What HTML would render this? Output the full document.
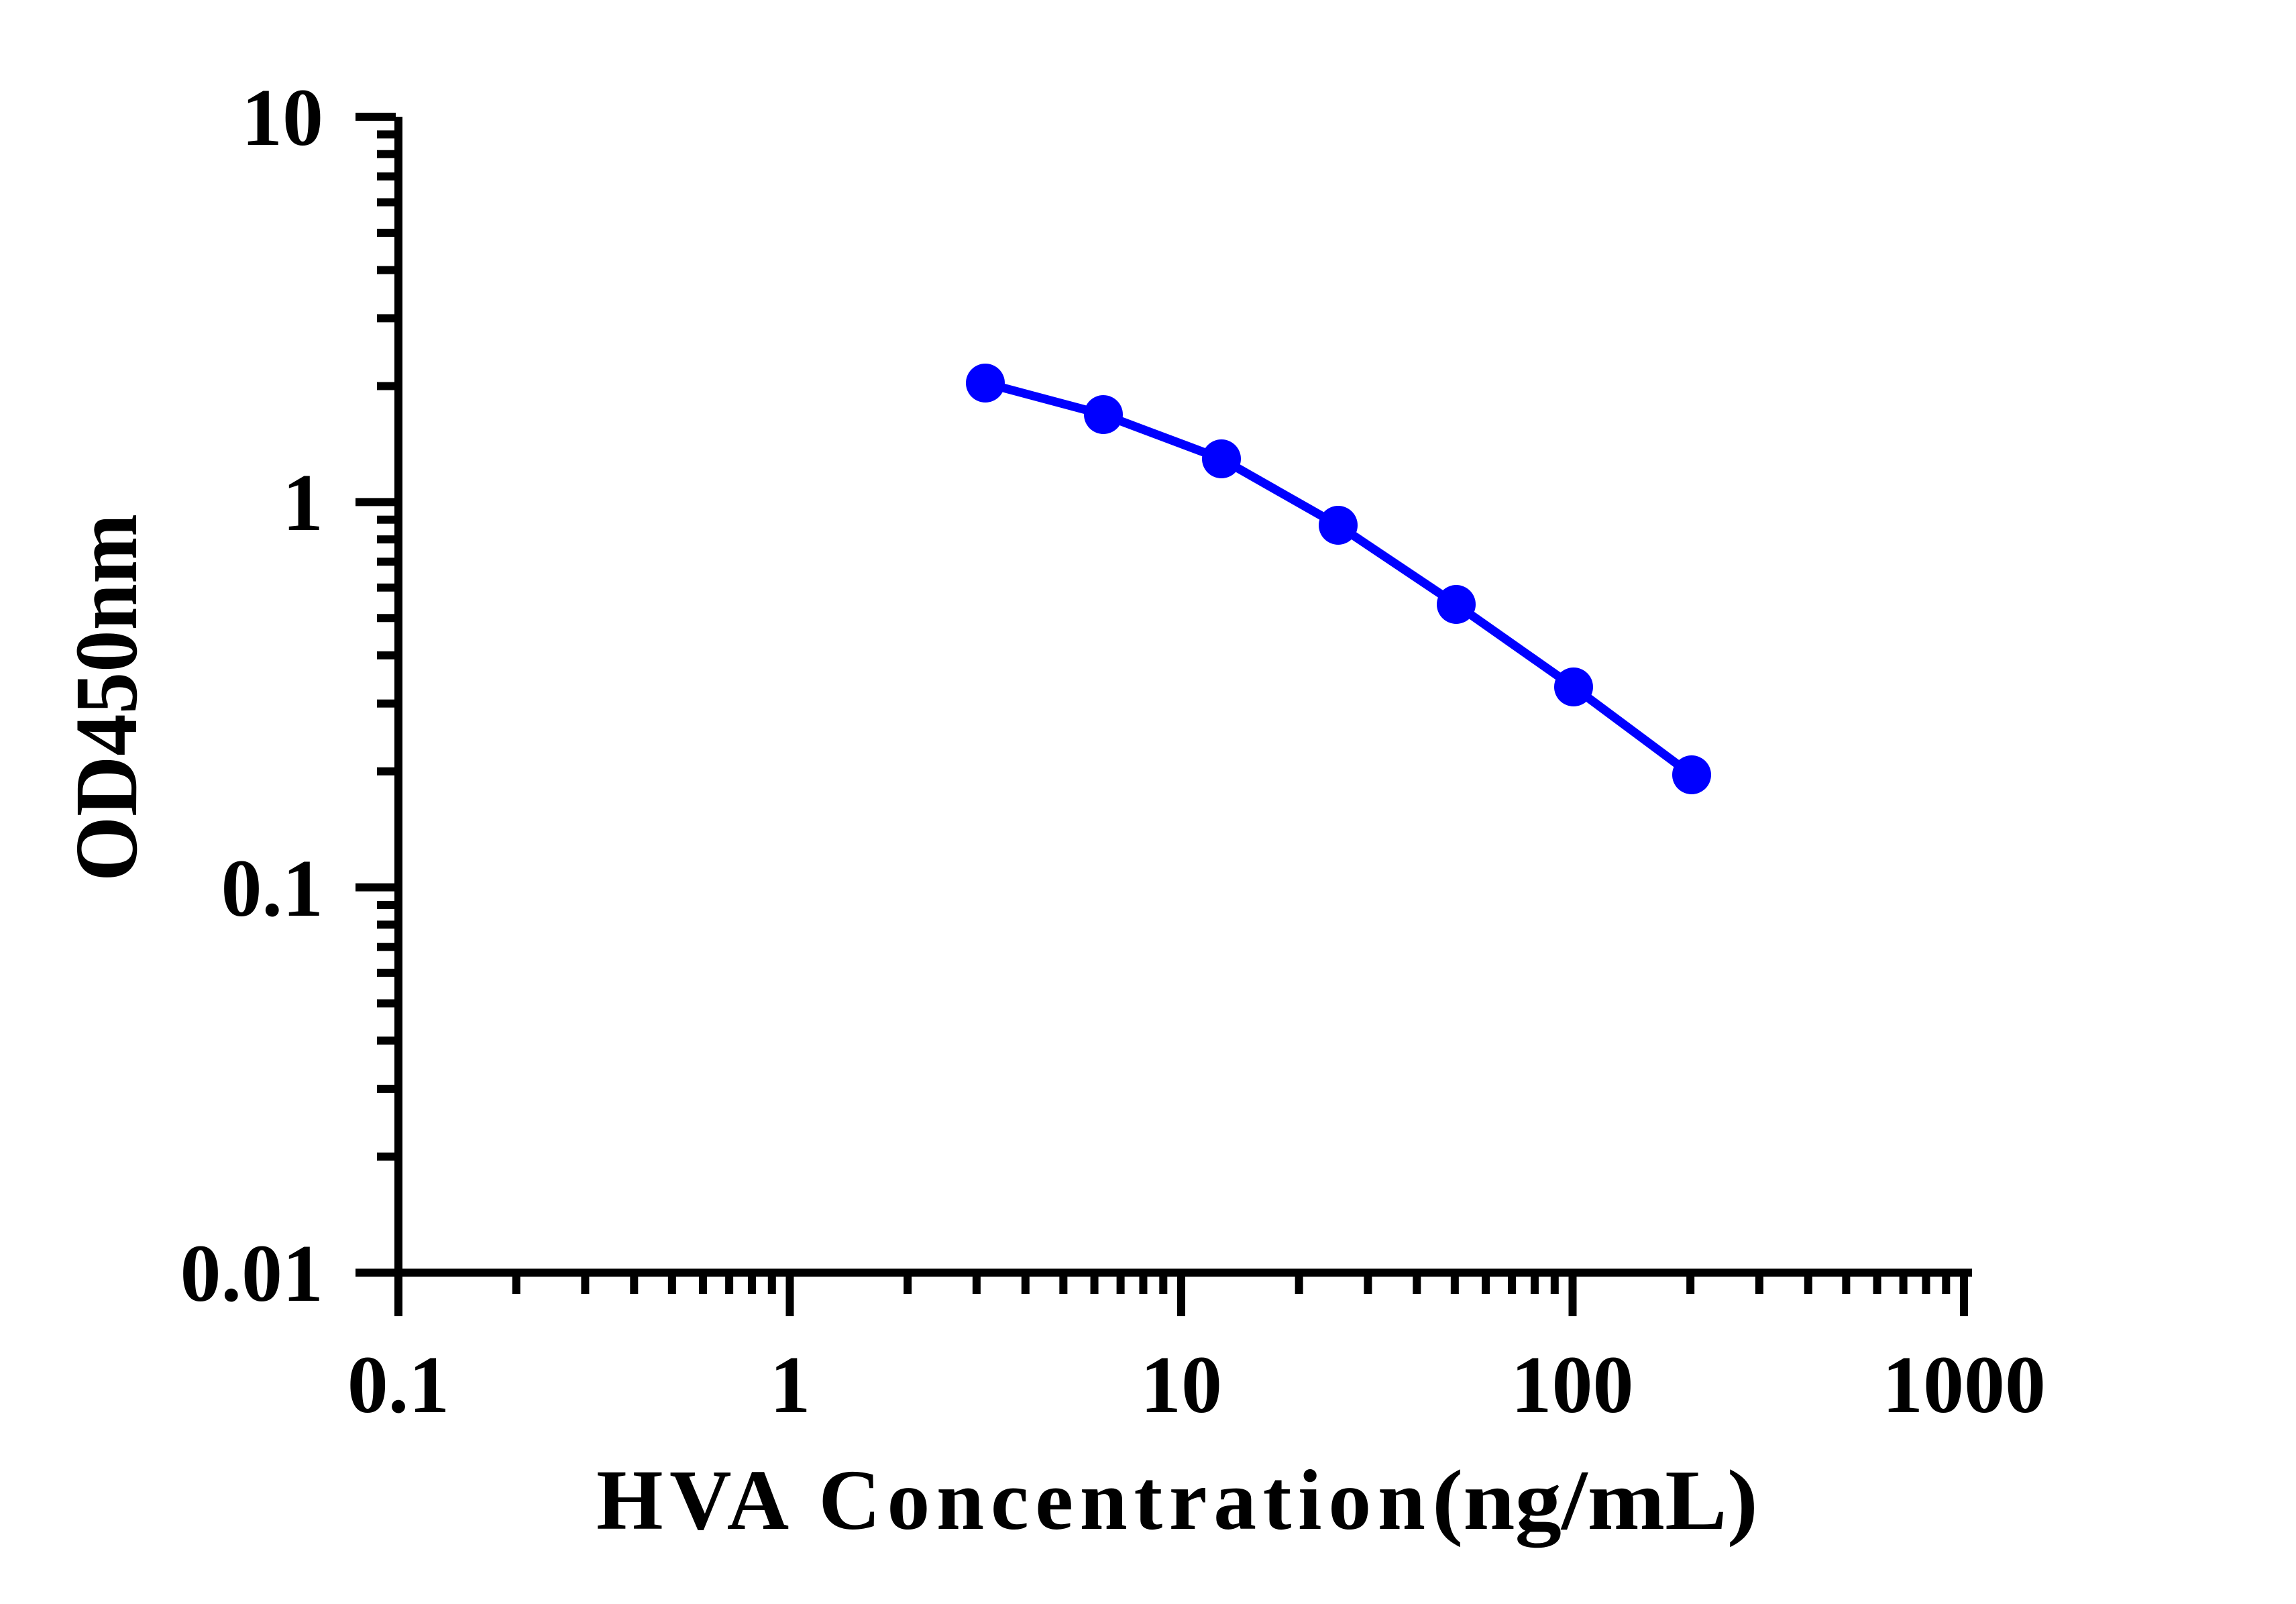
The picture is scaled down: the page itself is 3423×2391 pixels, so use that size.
<!DOCTYPE html>
<html><head><meta charset="utf-8"><style>
html,body{margin:0;padding:0;background:#fff;}
svg{display:block;}
text{font-family:"Liberation Serif","Times New Roman",serif;font-weight:bold;fill:#000;}
</style></head><body>
<svg width="3423" height="2391" viewBox="0 0 3423 2391" xmlns="http://www.w3.org/2000/svg">
<rect width="3423" height="2391" fill="#fff"/>
<g id="axes" fill="#000">
<rect x="588" y="174" width="12" height="1788"/>
<rect x="530" y="1891" width="2410" height="12"/>
</g>
<g id="yticks" fill="#000"></g>
<g id="xticks" fill="#000"></g>
<g font-size="122">
<text x="482" y="216" text-anchor="end">10</text>
<text x="482" y="790" text-anchor="end">1</text>
<text x="482" y="1365" text-anchor="end">0.1</text>
<text x="482" y="1939" text-anchor="end">0.01</text>
<text x="594" y="2105" text-anchor="middle">0.1</text>
<text x="1178" y="2105" text-anchor="middle">1</text>
<text x="1761" y="2105" text-anchor="middle">10</text>
<text x="2344" y="2105" text-anchor="middle">100</text>
<text x="2928" y="2105" text-anchor="middle">1000</text>
</g>
<text x="889" y="2279" font-size="128" textLength="1236" lengthAdjust="spacing">HVA Concentration</text>
<text x="2135" y="2279" font-size="128" textLength="486" lengthAdjust="spacingAndGlyphs">(ng/mL)</text>
<text transform="translate(203,1040) rotate(-90)" font-size="133" text-anchor="middle" textLength="548" lengthAdjust="spacingAndGlyphs">OD450nm</text>
<polyline points="1469,571 1645,618 1821,684 1995,783 2171,901 2346,1024 2522,1155" fill="none" stroke="#0000ff" stroke-width="13"/>
<g fill="#0000ff">
<circle cx="1469" cy="571" r="29"/>
<circle cx="1645" cy="618" r="29"/>
<circle cx="1821" cy="684" r="29"/>
<circle cx="1995" cy="783" r="29"/>
<circle cx="2171" cy="901" r="29"/>
<circle cx="2346" cy="1024" r="29"/>
<circle cx="2522" cy="1155" r="29"/>
</g>
<script>
(function(){
var ns="http://www.w3.org/2000/svg";
var yt=document.getElementById("yticks"),xt=document.getElementById("xticks");
function r(g,x,y,w,h){var e=document.createElementNS(ns,"rect");e.setAttribute("x",x);e.setAttribute("y",y);e.setAttribute("width",w);e.setAttribute("height",h);g.appendChild(e);}
var y0=1897,yd=574.3;
for(var d=0;d<3;d++){for(var m=1;m<=10;m++){
 var yy=y0-yd*(d+Math.log10(m));
 if(m==1||m==10){ if(m==10&&d<2)continue; r(yt,530,yy-6,60,12);} else r(yt,562,yy-6,28,12);
}}
var x0=594,xd=583.5;
for(var d=0;d<4;d++){for(var m=1;m<=10;m++){
 var xx=x0+xd*(d+Math.log10(m));
 if(m==1||m==10){ if(m==10&&d<3)continue; r(xt,xx-6,1897,12,65);} else r(xt,xx-6,1897,12,32);
}}
})();
</script>
</svg>
</body></html>
